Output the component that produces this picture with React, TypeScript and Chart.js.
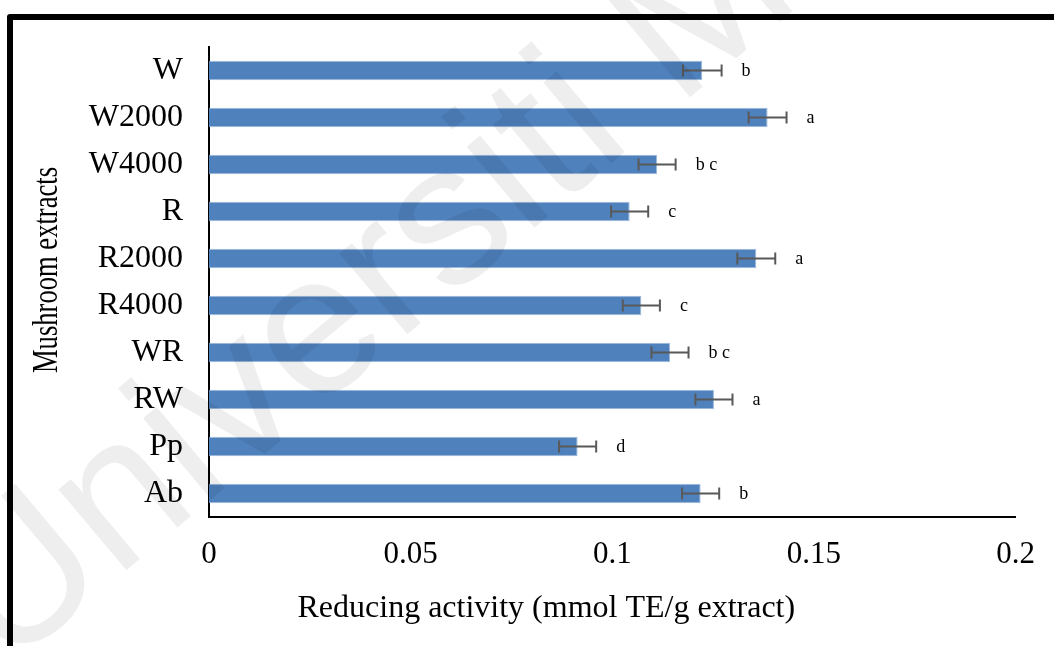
import React, { useEffect, useRef } from 'react';
import { Chart, registerables } from 'chart.js';

Chart.register(...registerables);

// ---- data ----
const categories = ['W', 'W2000', 'W4000', 'R', 'R2000', 'R4000', 'WR', 'RW', 'Pp', 'Ab'];
const values = [0.1223, 0.1385, 0.1111, 0.1043, 0.1357, 0.1072, 0.1143, 0.1252, 0.0914, 0.1219];
const errors = [0.0048, 0.0047, 0.0046, 0.0046, 0.0047, 0.0046, 0.0046, 0.0046, 0.0046, 0.0046];
const letters = ['b', 'a', 'b c', 'c', 'a', 'c', 'b c', 'a', 'd', 'b'];
const xTicks = [0, 0.05, 0.1, 0.15, 0.2];
const xTitle = 'Reducing activity (mmol TE/g extract)';
const yTitle = 'Mushroom extracts';
const watermarkText = 'Universiti Malaya';

const SERIF = '"Liberation Serif", "Times New Roman", serif';

const framePlugin = {
  id: 'frame',
  beforeDraw(chart: any) {
    const ctx = chart.ctx;
    ctx.save();
    ctx.fillStyle = '#fff';
    ctx.fillRect(0, 0, chart.width, chart.height);
    ctx.strokeStyle = '#000';
    ctx.lineWidth = 6;
    ctx.lineJoin = 'round';
    ctx.beginPath();
    ctx.moveTo(10, chart.height + 10);
    ctx.lineTo(10, 17);
    ctx.lineTo(chart.width + 10, 17);
    ctx.stroke();
    ctx.restore();
  },
};

const errorBarPlugin = {
  id: 'errorBars',
  afterDatasetsDraw(chart: any) {
    const ctx = chart.ctx;
    const xs = chart.scales.x;
    const ys = chart.scales.y;
    ctx.save();
    ctx.strokeStyle = '#595959';
    ctx.lineWidth = 2;
    values.forEach((v, i) => {
      const y = ys.getPixelForValue(i);
      const x1 = xs.getPixelForValue(v - errors[i]);
      const x2 = xs.getPixelForValue(v + errors[i]);
      ctx.beginPath();
      ctx.moveTo(x1, y);
      ctx.lineTo(x2, y);
      ctx.moveTo(x1, y - 6);
      ctx.lineTo(x1, y + 6);
      ctx.moveTo(x2, y - 6);
      ctx.lineTo(x2, y + 6);
      ctx.stroke();
      ctx.fillStyle = '#000';
      ctx.font = `18px ${SERIF}`;
      ctx.textAlign = 'left';
      ctx.textBaseline = 'middle';
      ctx.fillText(letters[i], x2 + 20, y + 1);
    });
    ctx.restore();
  },
};

const titlesPlugin = {
  id: 'axisTitles',
  afterDraw(chart: any) {
    const ctx = chart.ctx;
    const a = chart.chartArea;
    ctx.save();
    ctx.fillStyle = '#000';
    ctx.font = `32px ${SERIF}`;
    ctx.textAlign = 'center';
    ctx.textBaseline = 'middle';
    ctx.fillText(xTitle, (a.left + a.right) / 2 - 66, 609);

    ctx.translate(57, (a.top + a.bottom) / 2 - 12);
    ctx.rotate(-Math.PI / 2);
    ctx.scale(0.76, 1);
    ctx.font = `35px ${SERIF}`;
    ctx.textBaseline = 'alphabetic';
    ctx.fillText(yTitle, 0, 0);
    ctx.restore();
  },
};

const watermarkPlugin = {
  id: 'watermark',
  afterDraw(chart: any) {
    const ctx = chart.ctx;
    ctx.save();
    ctx.translate(5, 672);
    ctx.rotate((-40 * Math.PI) / 180);
    ctx.font = `200px "Liberation Sans", Arial, sans-serif`;
    ctx.fillStyle = 'rgba(0,0,0,0.065)';
    ctx.textAlign = 'left';
    ctx.textBaseline = 'alphabetic';
    ctx.fillText(watermarkText, 0, 0);
    ctx.restore();
  },
};

export default function App() {
  const ref = useRef<HTMLCanvasElement>(null);

  useEffect(() => {
    if (!ref.current) return;
    const chart = new Chart(ref.current, {
      type: 'bar',
      data: {
        labels: categories,
        datasets: [
          {
            data: values,
            backgroundColor: '#4F81BD',
            borderColor: '#9DB9DD',
            borderWidth: 1,
            barPercentage: 0.415,
            categoryPercentage: 1,
          },
        ],
      },
      options: {
        indexAxis: 'y',
        animation: false,
        responsive: false,
        devicePixelRatio: 1,
        layout: { padding: { left: 0, right: 38, top: 47, bottom: 0 } },
        plugins: {
          legend: { display: false },
          tooltip: { enabled: false },
        },
        scales: {
          x: {
            min: 0,
            max: 0.2,
            afterBuildTicks: (s: any) => {
              s.ticks = xTicks.map((v) => ({ value: v }));
            },
            afterFit: (s: any) => {
              s.height = 129;
            },
            grid: { display: false, drawTicks: false },
            border: { display: true, color: '#000', width: 2 },
            ticks: {
              color: '#000',
              padding: 19,
              font: { family: SERIF, size: 31 },
              maxRotation: 0,
              callback: (v: any) => String(v),
            },
          },
          y: {
            afterFit: (s: any) => {
              s.width = 209;
            },
            grid: { display: false, drawTicks: false },
            border: { display: true, color: '#000', width: 2 },
            ticks: {
              color: '#000',
              padding: 26,
              font: { family: SERIF, size: 32 },
            },
          },
        },
      },
      plugins: [framePlugin, errorBarPlugin, titlesPlugin, watermarkPlugin],
    } as any);
    return () => chart.destroy();
  }, []);

  return (
    <div style={{ position: 'fixed', left: 0, top: 0, width: 1054, height: 646, background: '#fff' }}>
      <canvas ref={ref} width={1054} height={646} style={{ display: 'block', width: 1054, height: 646 }} />
    </div>
  );
}
